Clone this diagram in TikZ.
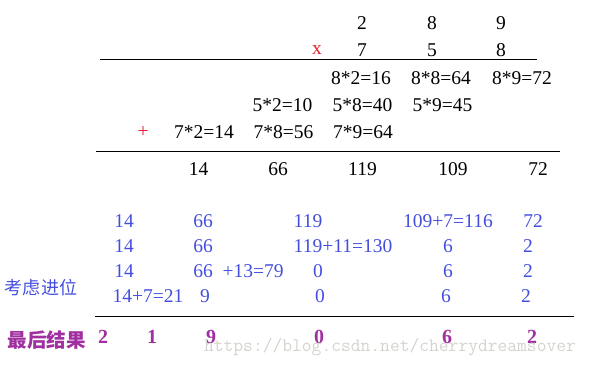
\documentclass[tikz,border=0pt]{standalone}
\usepackage{fontspec}
\usepackage{xcolor}
\setmainfont{Liberation Serif}
\newfontfamily\cjkfont{Noto Sans CJK SC}

\definecolor{markred}{RGB}{228,30,48}
\definecolor{carryblue}{RGB}{68,78,222}
\definecolor{finalpurple}{RGB}{160,48,160}
\definecolor{wmgray}{RGB}{212,212,206}

\tikzset{
    digit/.style={inner sep=0pt, font=\fontsize{19.5}{22}\selectfont},
    carry/.style={digit, text=carryblue},
    final/.style={inner sep=0pt, text=finalpurple, font=\fontsize{20}{22}\selectfont\bfseries},
    rule/.style={line width=1pt}
}

\begin{document}
\begin{tikzpicture}[x=1pt,y=-1pt]
            \useasboundingbox (0,0) rectangle (593,366);
            % factors
            \foreach \x/\t [count=\i] in {362/2,432/8,501/9}
            {
                \node[digit] (ra\i) at (\x,23) {\t};
            }
            \node[digit, text=markred] (times) at (317,50) {x};
            \foreach \x/\t [count=\i] in {362/7,432/5,501/8}
            {
                \node[digit] (rb\i) at (\x,50) {\t};
            }
            \coordinate (l1a) at (100,59.5);
            \coordinate (l1b) at (537,59.5);
            \draw[rule] (l1a) -- (l1b);
            % partial products
            \foreach \x/\t [count=\i] in {361/8*2=16,441/8*8=64,522/8*9=72}
            {
                \node[digit] (pa\i) at (\x,78) {\t};
            }
            \foreach \x/\t [count=\i] in {282.5/5*2=10,362.5/5*8=40,442.5/5*9=45}
            {
                \node[digit] (pb\i) at (\x,105) {\t};
            }
            \node[digit, text=markred] (plus) at (143,132) {+};
            \foreach \x/\t [count=\i] in {204/7*2=14,283.5/7*8=56,363/7*9=64}
            {
                \node[digit] (pc\i) at (\x,132) {\t};
            }
            \coordinate (l2a) at (96,151.5);
            \coordinate (l2b) at (560,151.5);
            \draw[rule] (l2a) -- (l2b);
            % column sums
            \foreach \x/\t [count=\i] in {198.5/14,278/66,362.5/119,453/109,538/72}
            {
                \node[digit] (sum\i) at (\x,169.5) {\t};
            }
            % carrying
            \foreach \x/\t [count=\i] in {124/14,203/66,308/119,448/109+7=116,533/72}
            {
                \node[carry] (ca\i) at (\x,221.5) {\t};
            }
            \foreach \x/\t [count=\i] in {124/14,203/66,343/119+11=130,448/6,528/2}
            {
                \node[carry] (cb\i) at (\x,246.5) {\t};
            }
            \foreach \x/\t [count=\i] in {124/14,203/66,253/+13=79,318/0,448/6,528/2}
            {
                \node[carry] (cc\i) at (\x,271) {\t};
            }
            \foreach \x/\t [count=\i] in {148/14+7=21,205/9,320/0,446/6,526/2}
            {
                \node[carry] (cd\i) at (\x,296.5) {\t};
            }
            \node[inner sep=0pt, text=carryblue, font=\fontsize{18}{20}\cjkfont] (carrylabel) at (41,288) {考虑进位};
            \coordinate (l3a) at (95,316.5);
            \coordinate (l3b) at (574,316.5);
            \draw[rule] (l3a) -- (l3b);
            % result
            \node[inner sep=0pt, text=finalpurple, font=\fontsize{19.5}{22}\cjkfont\bfseries] (resultlabel) at (46.5,340) {最后结果};
            \foreach \x/\t [count=\i] in {103/2,152/1,211/9,319/0,447/6,532/2}
            {
                \node[final] (res\i) at (\x,337) {\t};
            }
            \node[inner sep=0pt, text=wmgray, font=\fontsize{19}{21}\ttfamily] (mark) at (390,347) {https://blog.csdn.net/cherrydreamsover};
        \end{tikzpicture}
\end{document}
